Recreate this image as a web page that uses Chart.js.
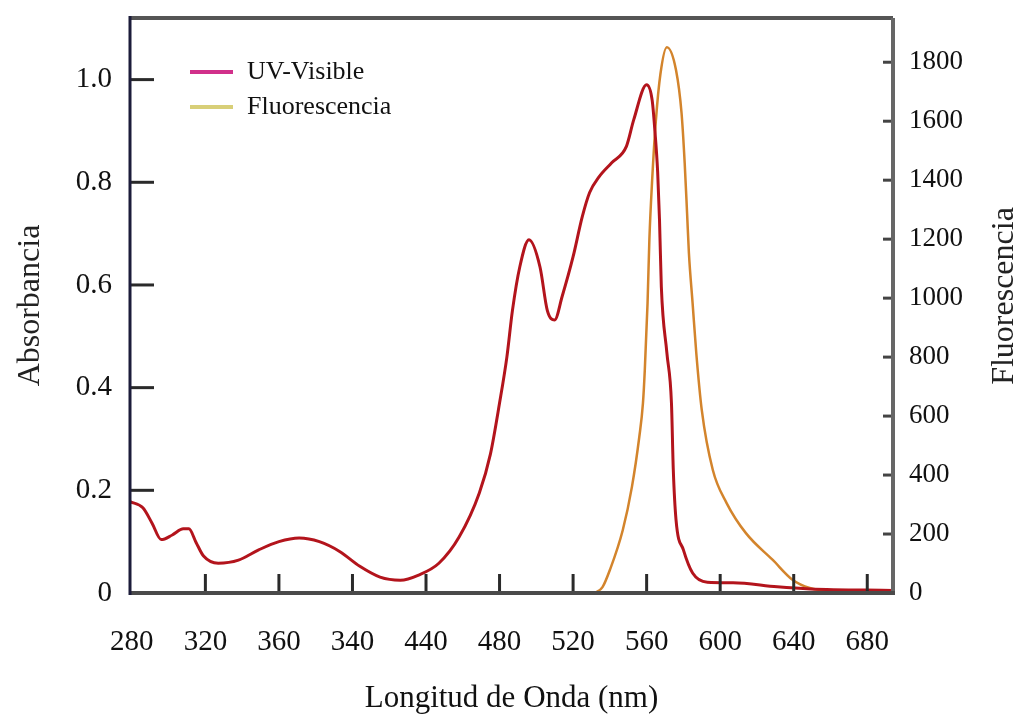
<!DOCTYPE html>
<html>
<head>
<meta charset="utf-8">
<script src="https://cdn.jsdelivr.net/npm/chart.js@4.4.1/dist/chart.umd.min.js"></script>
<style>
  html, body { margin: 0; padding: 0; background: #fff; }
  #wrap { width: 1024px; height: 719px; }
</style>
</head>
<body>
<div id="wrap"><canvas id="myChart" width="1024" height="719"></canvas></div>
<script>
// UV-Visible absorbance (left axis)
var absWavelength = [279, 286, 291, 296, 302, 308, 311, 315, 319, 327, 338, 349, 360, 371, 382, 393, 404, 415, 426, 436, 447, 458, 469, 475, 480, 484, 487, 491, 496, 502, 506, 510, 514, 520, 525, 529, 534, 541, 549, 553, 560, 563, 564.5, 566, 567, 568, 571, 573.5, 574.5, 576, 580, 585, 593, 607, 631, 649, 694];
var absValues = [0.178, 0.166, 0.136, 0.104, 0.113, 0.125, 0.125, 0.098, 0.072, 0.058, 0.064, 0.084, 0.100, 0.107, 0.100, 0.081, 0.052, 0.031, 0.025, 0.035, 0.058, 0.109, 0.195, 0.270, 0.370, 0.460, 0.550, 0.635, 0.688, 0.635, 0.550, 0.532, 0.577, 0.655, 0.733, 0.780, 0.810, 0.838, 0.870, 0.922, 0.990, 0.960, 0.900, 0.820, 0.727, 0.596, 0.468, 0.370, 0.240, 0.142, 0.084, 0.039, 0.021, 0.020, 0.012, 0.008, 0.005];

// Fluorescence (right axis)
var fluorWavelength = [532, 536, 540, 547, 552, 556, 558, 559, 560.5, 561.5, 563, 565, 567.5, 571, 576, 579, 580.7, 582, 583, 585, 587, 590, 596, 603.5, 614, 628.6, 639.5, 648.7, 660, 694];
var fluorValues = [0, 20, 78, 213, 360, 529, 644, 756, 983, 1200, 1400, 1600, 1760, 1851, 1773, 1627, 1458, 1288, 1152, 983, 814, 620, 417, 305, 203, 112, 44, 17, 8, 5];

var seriesNames = ["UV-Visible", "Fluorescencia"];
var legendColors = ["#d1308a", "#d8cf78"];
var lineColors = ["#b3141c", "#d3842c"];
var xTicks = [280, 320, 360, 400, 440, 480, 520, 560, 600, 640, 680];
var xTickLabels = ["280", "320", "360", "340", "440", "480", "520", "560", "600", "640", "680"];

var serif = "'Liberation Serif', 'DejaVu Serif', serif";

function pairs(xs, ys) {
    return xs.map(function (x, i) { return { x: x, y: ys[i] }; });
}

// fixed axis box sizes so the plot area lands where the original has it
function fitVertical(w) {
    return function (sc) {
        sc.width = w;
        sc.paddingTop = 0;
        sc.paddingBottom = 0;
    };
}

var framePlugin = {
    id: "frame",
    afterDatasetsDraw: function (chart) {
        var ctx = chart.ctx, a = chart.chartArea, s = chart.scales;
        ctx.save();
        ctx.lineCap = "butt";
        // inward tick marks
        ctx.strokeStyle = "#2a2a2a";
        ctx.lineWidth = 3;
        s.x.ticks.forEach(function (t) {
            var px = s.x.getPixelForValue(t.value);
            if (px < a.left + 6 || px > a.right - 6) return;
            ctx.beginPath(); ctx.moveTo(px, a.bottom); ctx.lineTo(px, a.bottom - 19); ctx.stroke();
        });
        s.y.ticks.forEach(function (t) {
            if (t.value === 0) return;
            var py = s.y.getPixelForValue(t.value);
            ctx.beginPath(); ctx.moveTo(a.left, py); ctx.lineTo(a.left + 24, py); ctx.stroke();
        });
        ctx.strokeStyle = "#444";
        s.y1.ticks.forEach(function (t) {
            if (t.value === 0) return;
            var py = s.y1.getPixelForValue(t.value);
            ctx.beginPath(); ctx.moveTo(a.right - 10, py); ctx.lineTo(a.right, py); ctx.stroke();
        });
        // frame
        ctx.lineWidth = 4;
        ctx.strokeStyle = "#555";
        ctx.beginPath(); ctx.moveTo(a.left, a.top); ctx.lineTo(a.right, a.top); ctx.stroke();
        ctx.strokeStyle = "#666";
        ctx.beginPath(); ctx.moveTo(a.right, a.top); ctx.lineTo(a.right, a.bottom); ctx.stroke();
        ctx.strokeStyle = "#4a4a4a";
        ctx.beginPath(); ctx.moveTo(a.left, a.bottom); ctx.lineTo(a.right + 2, a.bottom); ctx.stroke();
        ctx.lineWidth = 3;
        ctx.strokeStyle = "#1c1c3a";
        ctx.beginPath(); ctx.moveTo(a.left, a.top - 2); ctx.lineTo(a.left, a.bottom + 2); ctx.stroke();
        // legend inside the plot
        ctx.font = "26px " + serif;
        ctx.textBaseline = "middle";
        ctx.textAlign = "left";
        [72, 107].forEach(function (y, i) {
            ctx.strokeStyle = legendColors[i];
            ctx.lineWidth = 4;
            ctx.beginPath(); ctx.moveTo(190, y); ctx.lineTo(233, y); ctx.stroke();
            ctx.fillStyle = "#111";
            ctx.fillText(seriesNames[i], 247, y);
        });
        // right axis title, reading bottom to top
        ctx.translate(1005, 296);
        ctx.rotate(-Math.PI / 2);
        ctx.font = "32px " + serif;
        ctx.textAlign = "center";
        ctx.fillStyle = "#222";
        ctx.fillText("Fluorescencia", 0, 0);
        ctx.restore();
    }
};

new Chart("myChart", {
    type: "line",
    data: {
        datasets: [{
            label: seriesNames[0],
            data: pairs(absWavelength, absValues),
            borderColor: lineColors[0],
            borderWidth: 3,
            pointRadius: 0,
            cubicInterpolationMode: "monotone",
            yAxisID: "y"
        }, {
            label: seriesNames[1],
            data: pairs(fluorWavelength, fluorValues),
            borderColor: lineColors[1],
            borderWidth: 2.5,
            pointRadius: 0,
            cubicInterpolationMode: "monotone",
            yAxisID: "y1"
        }]
    },
    options: {
        responsive: false,
        animation: false,
        layout: { padding: { top: 18 } },
        plugins: {
            legend: { display: false },
            tooltip: { enabled: false }
        },
        scales: {
            x: {
                type: "linear",
                min: 279,
                max: 694,
                afterFit: function (sc) { sc.height = 126; },
                afterBuildTicks: function (sc) {
                    sc.ticks = xTicks.map(function (v) { return { value: v }; });
                },
                grid: { display: false, drawTicks: false },
                border: { display: false },
                ticks: {
                    padding: 32,
                    maxRotation: 0,
                    autoSkip: false,
                    color: "#111",
                    font: { family: serif, size: 29 },
                    callback: function (v) {
                        var i = xTicks.indexOf(v);
                        return i >= 0 ? xTickLabels[i] : "";
                    }
                },
                title: {
                    display: true,
                    text: "Longitud de Onda (nm)",
                    color: "#111",
                    font: { family: serif, size: 31 },
                    padding: { top: 0, bottom: 2 }
                }
            },
            y: {
                position: "left",
                min: 0,
                max: 1.12,
                afterFit: fitVertical(130),
                grid: { display: false, drawTicks: false },
                border: { display: false },
                ticks: {
                    stepSize: 0.2,
                    includeBounds: false,
                    padding: 18,
                    color: "#111",
                    font: { family: serif, size: 29 },
                    callback: function (v) { return v === 0 ? "0" : v.toFixed(1); }
                },
                title: {
                    display: true,
                    text: "Absorbancia",
                    color: "#222",
                    font: { family: serif, size: 32 },
                    padding: { top: 11, bottom: 0 }
                }
            },
            y1: {
                position: "right",
                min: 0,
                max: 1950,
                afterFit: fitVertical(131),
                grid: { display: false, drawTicks: false },
                border: { display: false },
                ticks: {
                    stepSize: 200,
                    includeBounds: false,
                    padding: 16,
                    color: "#111",
                    font: { family: serif, size: 27 },
                    callback: function (v) { return String(v); }
                }
            }
        }
    },
    plugins: [framePlugin]
});
</script>
</body>
</html>
